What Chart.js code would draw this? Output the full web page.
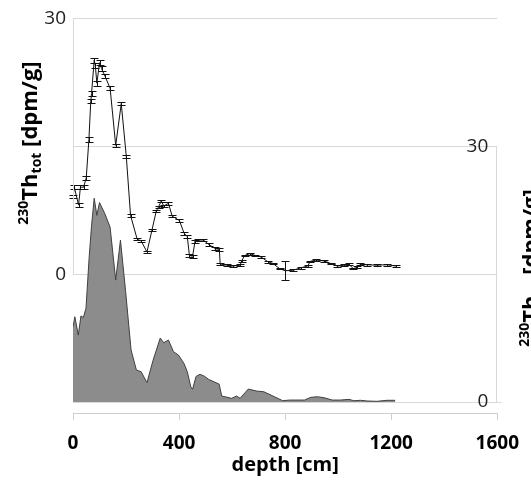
<!DOCTYPE html>
<html>
<head>
<meta charset="utf-8">
<script src="https://cdn.jsdelivr.net/npm/chart.js@4"></script>
<style>
  html, body { margin: 0; padding: 0; background: #fff; overflow: hidden; }
  #wrap { width: 531px; height: 484px; }
</style>
</head>
<body>
<div id="wrap"><canvas id="chart" width="531" height="484"></canvas></div>
<script>
// 230Th total (line with error bars, left axis)
const totDepth = [0, 5, 21, 28, 40, 50, 60, 67, 70, 80, 84, 90, 100, 108, 121, 140, 161, 182, 201, 217,
  242, 257, 279, 298, 314, 323, 333, 342, 360, 374, 401, 419, 431, 439, 451, 460, 472, 492, 511, 536,
  552, 555, 579, 604, 630, 636, 648, 667, 686, 710, 735, 754, 779, 800, 829, 860, 885, 895, 916, 947,
  972, 997, 1022, 1041, 1057, 1072, 1084, 1109, 1146, 1184, 1218];
const totValue = [9.1, 10.2, 8.1, 10.2, 10.2, 11.3, 15.8, 20.3, 21.2, 25.1, 24.5, 22.4, 24.8, 24.1, 23.2, 21.8, 15.1, 20.0, 13.8, 6.9,
  4.1, 3.9, 2.6, 5.2, 7.4, 7.9, 8.6, 8.0, 8.3, 6.8, 6.3, 4.8, 4.4, 2.2, 2.1, 3.8, 4.0, 4.0, 3.5, 3.0,
  2.9, 1.2, 1.05, 0.95, 1.05, 1.55, 2.2, 2.4, 2.2, 2.0, 1.45, 1.25, 0.65, 0.4, 0.45, 0.75, 0.95, 1.5, 1.65, 1.55,
  1.25, 0.95, 1.05, 1.15, 0.65, 0.8, 1.15, 1.1, 1.05, 1.1, 0.95];
const totError = [0.2, 0.2, 0.2, 0.2, 0.2, 0.2, 0.25, 0.25, 0.25, 0.3, 0.3, 0.3, 0.3, 0.3, 0.25, 0.25, 0.2, 0.2, 0.2, 0.15,
  0.15, 0.15, 0.15, 0.15, 0.15, 0.15, 0.15, 0.15, 0.15, 0.15, 0.15, 0.15, 0.15, 0.15, 0.15, 0.15, 0.15, 0.15, 0.15, 0.15,
  0.15, 0.15, 0.1, 0.1, 0.1, 0.1, 0.1, 0.1, 0.1, 0.1, 0.1, 0.1, 0.1, 1.1, 0.1, 0.1, 0.1, 0.1, 0.1, 0.1,
  0.1, 0.1, 0.1, 0.1, 0.1, 0.1, 0.1, 0.1, 0.1, 0.1, 0.1];

// 230Th excess (grey area, right axis)
const xsDepth = [0, 7, 20, 30, 39, 49, 61, 70, 80, 90, 100, 120, 140, 161, 179, 198, 219, 239, 257, 279,
  302, 329, 342, 360, 379, 398, 419, 431, 444, 451, 464, 479, 497, 511, 551, 561, 598, 617, 630, 661,
  692, 720, 754, 791, 816, 873, 897, 922, 947, 978, 1009, 1041, 1059, 1084, 1109, 1146, 1184, 1215];
const xsValue = [8.8, 10.0, 7.85, 10.1, 9.9, 11.0, 17.0, 20.7, 23.9, 21.9, 23.4, 22.1, 20.5, 14.3, 19.0, 13.1, 6.1, 3.75, 3.55, 2.27,
  4.9, 7.5, 6.95, 7.27, 5.9, 5.5, 4.5, 3.55, 1.8, 1.5, 3.0, 3.25, 3.0, 2.66, 2.1, 0.7, 0.43, 0.7, 0.43, 1.52,
  1.29, 1.2, 0.7, 0.15, 0.23, 0.23, 0.55, 0.62, 0.5, 0.23, 0.23, 0.31, 0.15, 0.2, 0.12, 0.08, 0.2, 0.2];

const xTicks = [0, 400, 800, 1200, 1600];
const totTicks = [-15, 0, 15, 30];
const xsTicks = [0, 30];
const shownLabels = [0, 30];

const FONT = "'Open Sans', 'DejaVu Sans', sans-serif";
const GRID = '#d9d9d9';

// error bars for the total series
const errorBars = {
  id: 'errorBars',
  afterDatasetsDraw(chart) {
    const { ctx, scales } = chart;
    const xs = scales.x, ys = scales.yTot;
    ctx.save();
    ctx.strokeStyle = '#111';
    ctx.lineWidth = 1;
    totDepth.forEach((d, i) => {
      const x = Math.round(xs.getPixelForValue(d)) + 0.5;
      const y1 = Math.round(ys.getPixelForValue(totValue[i] + totError[i])) + 0.5;
      const y2 = Math.round(ys.getPixelForValue(totValue[i] - totError[i])) + 0.5;
      ctx.beginPath();
      ctx.moveTo(x, y1); ctx.lineTo(x, y2);
      ctx.moveTo(x - 4, y1); ctx.lineTo(x + 4, y1);
      ctx.moveTo(x - 4, y2); ctx.lineTo(x + 4, y2);
      ctx.stroke();
    });
    ctx.restore();
  }
};

// rotated title with super/subscripts
function richTitle(ctx, parts, bx, cy, size) {
  ctx.save();
  ctx.translate(bx, cy);
  ctx.rotate(-Math.PI / 2);
  ctx.fillStyle = '#000';
  ctx.textBaseline = 'alphabetic';
  const fontOf = p => 'bold ' + (p.k ? Math.round(size * 0.62) : size) + 'px ' + FONT;
  let total = 0;
  parts.forEach(p => { ctx.font = fontOf(p); total += ctx.measureText(p.t).width; });
  let x = -total / 2;
  parts.forEach(p => {
    ctx.font = fontOf(p);
    const dy = p.k === 'sup' ? -size * 0.4 : p.k === 'sub' ? size * 0.2 : 0;
    ctx.fillText(p.t, x, dy);
    x += ctx.measureText(p.t).width;
  });
  ctx.restore();
}

// partial axis lines (each axis only spans its own 0..30 range) + titles
const decorations = {
  id: 'decorations',
  afterDraw(chart) {
    const { ctx, chartArea, scales } = chart;
    ctx.save();
    ctx.strokeStyle = GRID;
    ctx.lineWidth = 1;
    const lx = Math.round(chartArea.left) + 0.5;
    const rx = Math.round(chartArea.right) - 0.5;
    ctx.beginPath();
    ctx.moveTo(lx, scales.yTot.getPixelForValue(30));
    ctx.lineTo(lx, scales.yTot.getPixelForValue(0));
    ctx.moveTo(rx, scales.yXs.getPixelForValue(30));
    ctx.lineTo(rx, scales.yXs.getPixelForValue(0));
    const y0 = Math.round(scales.yXs.getPixelForValue(0)) + 0.5;
    ctx.moveTo(rx, y0);
    ctx.lineTo(rx + 5, y0);
    ctx.stroke();
    ctx.restore();

    richTitle(ctx, [{ t: '230', k: 'sup' }, { t: 'Th' }, { t: 'tot', k: 'sub' }, { t: ' [dpm/g]' }], 37, 143, 22);
    richTitle(ctx, [{ t: '230', k: 'sup' }, { t: 'Th' }, { t: 'xs', k: 'sub' }, { t: ' [dpm/g]' }], 538, 268, 22);
  }
};

new Chart(document.getElementById('chart'), {
  type: 'line',
  data: {
    datasets: [
      {
        label: '230Th tot',
        data: totDepth.map((d, i) => ({ x: d, y: totValue[i] })),
        yAxisID: 'yTot',
        borderColor: '#111',
        borderWidth: 1,
        pointRadius: 0,
        fill: false,
        tension: 0
      },
      {
        label: '230Th xs',
        data: xsDepth.map((d, i) => ({ x: d, y: xsValue[i] })),
        yAxisID: 'yXs',
        borderColor: '#404040',
        backgroundColor: '#8c8c8c',
        borderWidth: 1,
        pointRadius: 0,
        fill: 'origin',
        tension: 0
      }
    ]
  },
  options: {
    responsive: false,
    animation: false,
    layout: { padding: { top: 18, left: 0, right: 0, bottom: 0 } },
    plugins: {
      legend: { display: false },
      tooltip: { enabled: false }
    },
    scales: {
      x: {
        type: 'linear',
        min: 0,
        max: 1600,
        afterBuildTicks: axis => { axis.ticks = xTicks.map(v => ({ value: v })); },
        afterFit: axis => { axis.height = 71; },
        grid: { drawOnChartArea: false, drawTicks: true, tickLength: 7, color: '#cfcfcf' },
        border: { color: '#cfcfcf' },
        ticks: {
          color: '#000',
          padding: 12,
          maxRotation: 0,
          font: { family: FONT, size: 19, weight: 'bold' },
          callback: v => String(v)
        },
        title: {
          display: true,
          text: 'depth [cm]',
          color: '#000',
          padding: { top: 0, bottom: 7 },
          font: { family: FONT, size: 20, weight: 'bold' }
        }
      },
      yTot: {
        type: 'linear',
        position: 'left',
        min: -16.289,
        max: 30,
        afterBuildTicks: axis => { axis.ticks = totTicks.map(v => ({ value: v })); },
        afterFit: axis => { axis.width = 73; },
        grid: { color: GRID, drawTicks: false },
        border: { display: false },
        ticks: {
          color: '#222',
          padding: 7,
          font: { family: FONT, size: 19 },
          callback: v => shownLabels.includes(v) ? String(v) : ''
        }
      },
      yXs: {
        type: 'linear',
        position: 'right',
        min: -1.289,
        max: 45,
        afterBuildTicks: axis => { axis.ticks = xsTicks.map(v => ({ value: v })); },
        afterFit: axis => { axis.width = 30; },
        grid: { display: false },
        border: { display: false },
        ticks: {
          color: '#222',
          mirror: true,
          padding: -9,
          font: { family: FONT, size: 19 }
        }
      }
    }
  },
  plugins: [errorBars, decorations]
});
</script>
</body>
</html>
